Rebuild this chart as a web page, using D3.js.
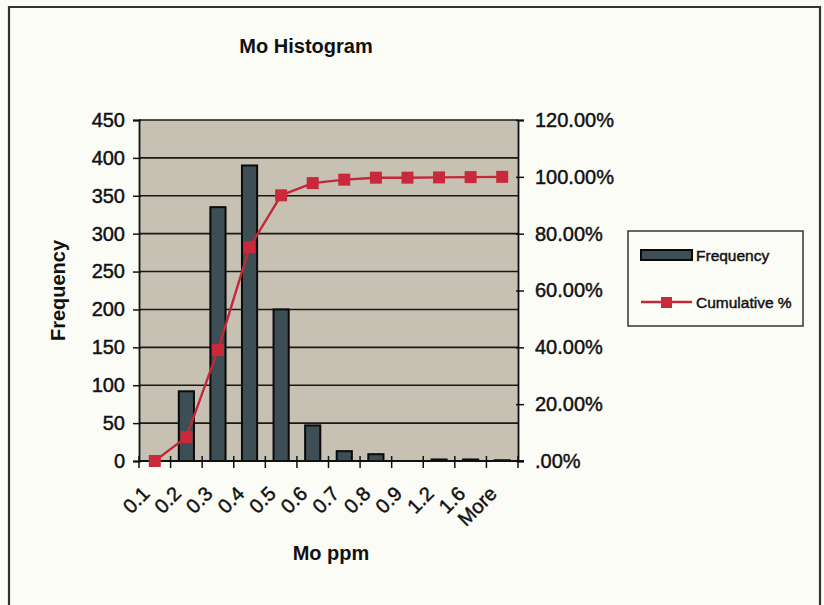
<!DOCTYPE html>
<html>
<head>
<meta charset="utf-8">
<script src="https://cdn.jsdelivr.net/npm/d3@7"></script>
<style>
  html, body { margin: 0; padding: 0; background: #fcfcf7; }
  svg { display: block; }
  text { font-family: "Liberation Sans", Arial, sans-serif; fill: #111; }
  .heavy { stroke: #111; stroke-width: 0.45px; }
</style>
</head>
<body>
<svg id="chart" width="824" height="605"></svg>
<script>
// Bin labels (upper bin edges, ppm)
const categories = ["0.1", "0.2", "0.3", "0.4", "0.5", "0.6", "0.7", "0.8", "0.9", "1.2", "1.6", "More"];
// Sample counts per bin
const frequency = [0, 92, 335, 390, 200, 47, 13, 9, 0, 2, 2, 1];
// Cumulative share of samples, in percent
const cumulative = [0, 8.4, 39.1, 75.2, 93.5, 97.8, 99.0, 99.7, 99.7, 99.8, 99.9, 100];
// Axis ticks
const freqTicks = [0, 50, 100, 150, 200, 250, 300, 350, 400, 450];
const pctTicks = [0, 20, 40, 60, 80, 100, 120];

const svg = d3.select("#chart");

// Outer frame
svg.append("path")
  .attr("d", "M9,605 L9,7 L820,7 L820,605")
  .attr("fill", "none").attr("stroke", "#333").attr("stroke-width", 2.2);

const plot = { left: 139, right: 518, top: 120, bottom: 461 };

const x = d3.scaleBand().domain(categories).range([plot.left, plot.right]).padding(0);
const yL = d3.scaleLinear().domain([0, 450]).range([plot.bottom, plot.top]);
const yR = d3.scaleLinear().domain([0, 120]).range([plot.bottom, plot.top]);

// Plot area background
svg.append("rect")
  .attr("x", plot.left).attr("y", plot.top)
  .attr("width", plot.right - plot.left).attr("height", plot.bottom - plot.top)
  .attr("fill", "#c6c1b3");

// Horizontal gridlines
svg.append("g").selectAll("line").data(freqTicks.slice(1)).join("line")
  .attr("x1", plot.left).attr("x2", plot.right)
  .attr("y1", d => yL(d)).attr("y2", d => yL(d))
  .attr("stroke", "#1a1814").attr("stroke-width", 1.6);

// Bars
const barW = x.bandwidth() * 0.48;
svg.append("g").selectAll("rect").data(frequency).join("rect")
  .attr("x", (d, i) => x(categories[i]) + (x.bandwidth() - barW) / 2)
  .attr("y", d => yL(d))
  .attr("width", barW)
  .attr("height", d => yL(0) - yL(d))
  .attr("fill", "#3d4e54")
  .attr("stroke", "#0a0a0a").attr("stroke-width", 2)
  .attr("visibility", d => d > 0 ? "visible" : "hidden");

// Left axis
const axL = svg.append("g").attr("transform", `translate(${plot.left},0)`)
  .call(d3.axisLeft(yL).tickValues(freqTicks).tickSize(6).tickPadding(8).tickFormat(d3.format("d")));
axL.selectAll("text").attr("font-size", 20).attr("fill", "#111").attr("class", "heavy");
axL.selectAll("line").attr("stroke", "#111").attr("stroke-width", 1.5).attr("x2", -6).attr("x1", 2);
axL.select(".domain").attr("stroke", "#111").attr("stroke-width", 1.8);

// Right axis
const axR = svg.append("g").attr("transform", `translate(${plot.right},0)`)
  .call(d3.axisRight(yR).tickValues(pctTicks).tickSize(6).tickPadding(11)
    .tickFormat(d => d === 0 ? ".00%" : d3.format(".2f")(d) + "%"));
axR.selectAll("text").attr("font-size", 20).attr("fill", "#111").attr("class", "heavy");
axR.selectAll("line").attr("stroke", "#111").attr("stroke-width", 1.5).attr("x1", -2);
axR.select(".domain").attr("stroke", "#111").attr("stroke-width", 1.8);

// Bottom axis with ticks at bin boundaries
const xAxisG = svg.append("g");
xAxisG.append("line")
  .attr("x1", plot.left).attr("x2", plot.right + 6)
  .attr("y1", plot.bottom).attr("y2", plot.bottom)
  .attr("stroke", "#111").attr("stroke-width", 1.8);
const edges = categories.map(c => x(c)).concat([plot.right]);
xAxisG.selectAll("line.tick").data(edges).join("line").attr("class", "tick")
  .attr("x1", d => d).attr("x2", d => d)
  .attr("y1", plot.bottom - 5).attr("y2", plot.bottom + 7)
  .attr("stroke", "#111").attr("stroke-width", 1.5);
xAxisG.selectAll("text").data(categories).join("text")
  .attr("transform", d => `translate(${x(d) + x.bandwidth() / 2 - 4},${plot.bottom + 34}) rotate(-45)`)
  .attr("text-anchor", "end")
  .attr("font-size", 20)
  .attr("class", "heavy")
  .text(d => d);

// Cumulative % line
const line = d3.line()
  .x((d, i) => x(categories[i]) + x.bandwidth() / 2)
  .y(d => yR(d));
svg.append("path").datum(cumulative)
  .attr("d", line)
  .attr("fill", "none").attr("stroke", "#c3283a").attr("stroke-width", 2.4);
const mk = 12;
svg.append("g").selectAll("rect").data(cumulative).join("rect")
  .attr("x", (d, i) => x(categories[i]) + x.bandwidth() / 2 - mk / 2)
  .attr("y", d => yR(d) - mk / 2)
  .attr("width", mk).attr("height", mk)
  .attr("fill", "#c82a3c");

// Titles
svg.append("text").attr("x", 306).attr("y", 53).attr("text-anchor", "middle")
  .attr("font-size", 20).attr("font-weight", "bold").text("Mo Histogram");
svg.append("text").attr("x", 331).attr("y", 560).attr("text-anchor", "middle")
  .attr("font-size", 20).attr("font-weight", "bold").text("Mo ppm");
svg.append("text")
  .attr("transform", `translate(65,${(plot.top + plot.bottom) / 2}) rotate(-90)`)
  .attr("text-anchor", "middle")
  .attr("font-size", 20).attr("font-weight", "bold").text("Frequency");

// Legend
const lg = svg.append("g");
lg.append("rect").attr("x", 628).attr("y", 231).attr("width", 175).attr("height", 95)
  .attr("fill", "#fcfcf7").attr("stroke", "#333").attr("stroke-width", 1.5);
lg.append("rect").attr("x", 641).attr("y", 250).attr("width", 51).attr("height", 10)
  .attr("fill", "#3d4e54").attr("stroke", "#0a0a0a").attr("stroke-width", 2);
lg.append("text").attr("x", 696).attr("y", 261).attr("font-size", 15.5).attr("class", "heavy").text("Frequency");
lg.append("line").attr("x1", 641).attr("x2", 692).attr("y1", 302).attr("y2", 302)
  .attr("stroke", "#c3283a").attr("stroke-width", 2.4);
lg.append("rect").attr("x", 661).attr("y", 297).attr("width", 11).attr("height", 11)
  .attr("fill", "#c82a3c");
lg.append("text").attr("x", 696).attr("y", 308).attr("font-size", 15.5).attr("class", "heavy").text("Cumulative %");
</script>
</body>
</html>
